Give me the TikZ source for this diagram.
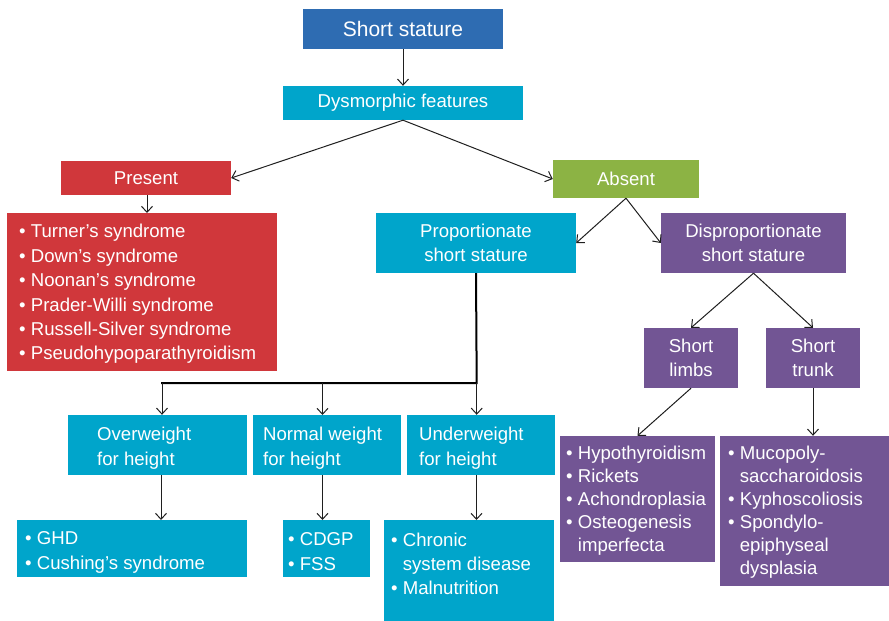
\documentclass[tikz,border=0pt]{standalone}
\usepackage{fontspec}
\setmainfont{Liberation Sans}
\usetikzlibrary{arrows.meta}
\definecolor{cblue}{HTML}{2E6CB2}
\definecolor{ccyan}{HTML}{00A5CB}
\definecolor{cred}{HTML}{D0373B}
\definecolor{cgreen}{HTML}{8CB344}
\definecolor{cpurple}{HTML}{725594}
\begin{document}
\begin{tikzpicture}[x=1pt,y=-1pt,
  box/.style={fill=#1, text=white, inner sep=0pt, align=center,
    font=\fontsize{18.6}{23.5}\selectfont},
  txt/.style={text=white, inner sep=0pt, align=left,
    font=\fontsize{18.6}{24.4}\selectfont},
  arr/.style={draw=black!88, line width=1pt, -{Straight Barb[length=6pt,width=11pt]}},
  tree/.style={draw=black, line width=2pt}]
\useasboundingbox (0,0) rectangle (889,621);

% top
\node[box=cblue, minimum width=200pt, minimum height=40pt,
  font=\fontsize{21}{25}\selectfont] (ss) at (403,29) {Short stature};
\node[box=ccyan, minimum width=240pt, minimum height=34pt] (df) at (403,103) {Dysmorphic features};
\node[box=cred, minimum width=170pt, minimum height=34pt] (pr) at (146,178) {Present};
\node[box=cgreen, minimum width=146pt, minimum height=38pt] (ab) at (626,179) {Absent};

% red list
\node[box=cred, minimum width=270pt, minimum height=158pt] (pl) at (142,292) {};
\node[txt, anchor=west] (plt) at (19,294) {• Turner’s syndrome\\• Down’s syndrome\\• Noonan’s syndrome\\• Prader-Willi syndrome\\• Russell-Silver syndrome\\• Pseudohypoparathyroidism};

% proportionate / disproportionate
\node[box=ccyan, minimum width=200pt, minimum height=60pt] (prop) at (476,243) {Proportionate\\short stature};
\node[box=cpurple, minimum width=185pt, minimum height=60pt] (dis) at (753.5,243) {Disproportionate\\short stature};
\node[box=cpurple, minimum width=94pt, minimum height=60pt] (sl) at (691,358) {Short\\limbs};
\node[box=cpurple, minimum width=94pt, minimum height=60pt] (st) at (813,358) {Short\\trunk};

% purple lists
\node[box=cpurple, minimum width=155pt, minimum height=126pt] (hy) at (637.5,499) {};
\node[txt, anchor=west, font=\fontsize{18.6}{23}\selectfont] (hyt) at (566,501) {• Hypothyroidism\\• Rickets\\• Achondroplasia\\• Osteogenesis\\\hphantom{•\ }imperfecta};
\node[box=cpurple, minimum width=169pt, minimum height=150pt] (mu) at (804.5,511) {};
\node[txt, anchor=west, font=\fontsize{18.6}{23}\selectfont] (mut) at (728,512.5) {• Mucopoly-\\\hphantom{•\ }saccharoidosis\\• Kyphoscoliosis\\• Spondylo-\\\hphantom{•\ }epiphyseal\\\hphantom{•\ }dysplasia};

% weight boxes
\node[box=ccyan, minimum width=179pt, minimum height=60pt] (ow) at (157.5,445) {};
\node[txt, anchor=west, font=\fontsize{18.6}{25}\selectfont] (owt) at (97,448) {Overweight\\for height};
\node[box=ccyan, minimum width=148pt, minimum height=60pt] (nw) at (327,445) {};
\node[txt, anchor=west, font=\fontsize{18.6}{25}\selectfont] (nwt) at (263,448) {Normal weight\\for height};
\node[box=ccyan, minimum width=148pt, minimum height=60pt] (uw) at (481,445) {};
\node[txt, anchor=west, font=\fontsize{18.6}{25}\selectfont] (uwt) at (419,448) {Underweight\\for height};

% bottom lists
\node[box=ccyan, minimum width=230pt, minimum height=57pt] (gh) at (132,548.5) {};
\node[txt, anchor=west, font=\fontsize{18.6}{25}\selectfont] (ght) at (25,552) {• GHD\\• Cushing’s syndrome};
\node[box=ccyan, minimum width=87pt, minimum height=57pt] (cd) at (326.5,548.5) {};
\node[txt, anchor=west, font=\fontsize{18.6}{25}\selectfont] (cdt) at (288,552) {• CDGP\\• FSS};
\node[box=ccyan, minimum width=170pt, minimum height=101pt] (ch) at (469,570.5) {};
\node[txt, anchor=west, font=\fontsize{18.6}{24}\selectfont] (cht) at (391,564) {• Chronic\\\hphantom{•\ }system disease\\• Malnutrition};

% connectors
\draw[arr] (ss.south) -- (df.north);
\draw[arr] (df.south) -- (pr.east);
\draw[arr] (df.south) -- (ab.west);
\draw[arr] (147,195) -- (147,213);
\draw[arr] (ab.south) -- (prop.east);
\draw[arr] (ab.south) -- (dis.west);
\draw[arr] (dis.south) -- (sl.north);
\draw[arr] (dis.south) -- (st.north);
\draw[arr] (sl.south) -- (hy.north);
\draw[arr] (st.south) -- (st.south |- mu.north);

\coordinate (j) at (476.7,383);
\coordinate (jl) at (162,383);
\draw[tree] (prop.south) -- (j) -- ([xshift=-1pt]jl);
\draw[arr] (jl) -- (jl |- ow.north);
\draw[arr] (322.5,383) -- (322.5,415);
\draw[arr] (j) -- (j |- uw.north);

\draw[arr] (161,475) -- (161,520);
\draw[arr] (322.5,475) -- (322.5,520);
\draw[arr] (476.5,475) -- (476.5,520);
\end{tikzpicture}
\end{document}
